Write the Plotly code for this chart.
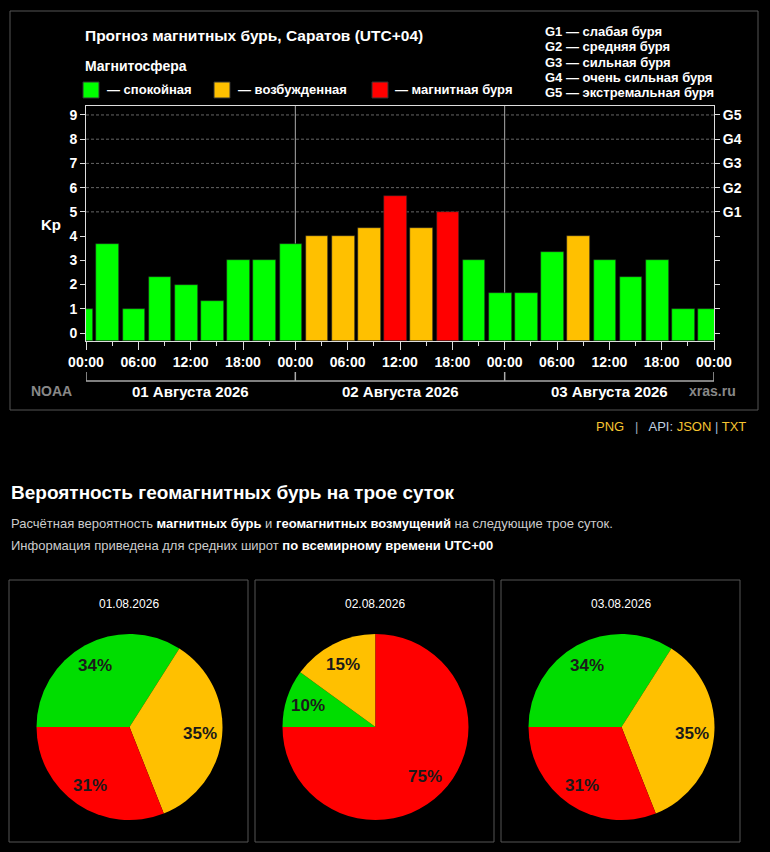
import math
import pandas as pd
import plotly.graph_objects as go

W, H = 770, 852

# Kp forecast, 3-hour intervals (local time UTC+04)
kp = [1, 3.67, 1, 2.33, 2, 1.33, 3, 3, 3.67, 4, 4, 4.33, 5.67, 4.33, 5, 3,
      1.67, 1.67, 3.33, 4, 3, 2.33, 3, 1, 1]
first_center = "2026-07-31 23:30"
day_labels = ["01 Августа 2026", "02 Августа 2026", "03 Августа 2026"]
g_levels = [5, 6, 7, 8, 9]
g_names = ["G1", "G2", "G3", "G4", "G5"]
g_desc = ["слабая буря", "средняя буря", "сильная буря", "очень сильная буря", "экстремальная буря"]
legend_names = ["спокойная", "возбужденная", "магнитная буря"]

pie_dates = ["01.08.2026", "02.08.2026", "03.08.2026"]
p_quiet = [34, 10, 34]
p_active = [35, 15, 35]
p_storm = [31, 75, 31]

GREEN, ORANGE, RED = "#00ff00", "#ffc000", "#ff0000"
PIE_GREEN = "#00dd00"
FONT = "Liberation Sans, Arial, sans-serif"


def px(x):
    return x / W


def py(y):
    return 1 - y / H


times = pd.date_range(first_center, periods=len(kp), freq="3h")
colors = [GREEN if v < 4 else (ORANGE if v < 5 else RED) for v in kp]
y_floor = -0.33
start = pd.Timestamp("2026-08-01")
end = start + pd.Timedelta(days=3)

fig = go.Figure()
fig.add_trace(go.Bar(
    x=times, y=[v - y_floor for v in kp], base=y_floor,
    width=2.6 * 3600 * 1000,
    marker=dict(color=colors, line=dict(color="#222", width=0.6)),
    hoverinfo="skip", showlegend=False,
))
# invisible trace for the right (G) axis
fig.add_trace(go.Scatter(x=[start], y=[0], yaxis="y2", mode="markers",
                         marker=dict(opacity=0), showlegend=False, hoverinfo="skip"))

fig.update_layout(
    width=W, height=H, autosize=False, margin=dict(l=0, r=0, t=0, b=0, pad=0),
    paper_bgcolor="#000", plot_bgcolor="#000",
    font=dict(family=FONT, color="#fff"),
    bargap=0, showlegend=False,
    xaxis=dict(
        domain=[px(86), px(714)], range=[start, end], type="date", automargin=False,
        tickformat="%H:%M", dtick=6 * 3600 * 1000, tick0=start,
        ticks="outside", ticklen=8, tickcolor="#ddd", tickwidth=1,
        minor=dict(dtick=3 * 3600 * 1000, ticks="outside", ticklen=4, tickcolor="#ddd"),
        showline=True, linecolor="#ddd", mirror=True, showgrid=False, zeroline=False,
        tickfont=dict(size=14, weight="bold", color="#fff"),
        fixedrange=True,
    ),
    yaxis=dict(
        domain=[py(341), py(106)], range=[y_floor, 9.37], automargin=False,
        tickvals=list(range(10)), ticks="outside", ticklen=5, tickcolor="#ddd",
        showline=True, linecolor="#ddd", showgrid=False, zeroline=False,
        tickfont=dict(size=14, weight="bold", color="#fff"),
        fixedrange=True,
    ),
    yaxis2=dict(
        overlaying="y", side="right", anchor="x", range=[y_floor, 9.37], automargin=False,
        tickvals=list(range(10)),
        ticktext=["" for _ in range(10 - len(g_names))] + g_names,
        ticks="outside", ticklen=5, tickcolor="#ddd",
        showline=True, linecolor="#ddd", showgrid=False, zeroline=False,
        tickfont=dict(size=14, weight="bold", color="#fff"),
        fixedrange=True,
    ),
)

shapes = []
for g in g_levels:
    shapes.append(dict(type="line", xref="x domain", yref="y", x0=0, x1=1, y0=g, y1=g,
                       line=dict(color="#666", width=1, dash="3px,2px"), layer="below"))
for d in range(1, 3):
    t = start + pd.Timedelta(days=d)
    shapes.append(dict(type="line", xref="x", yref="y domain", x0=t, x1=t, y0=0, y1=1,
                       line=dict(color="#aaa", width=1), layer="below"))
# day bracket under the axis
shapes.append(dict(type="line", xref="x", yref="paper", x0=start, x1=end,
                   y0=py(381), y1=py(381), line=dict(color="#aaa", width=1.5)))
for d in range(4):
    t = start + pd.Timedelta(days=d)
    shapes.append(dict(type="line", xref="x", yref="paper", x0=t, x1=t,
                       y0=py(381), y1=py(372), line=dict(color="#aaa", width=1.5)))
# outer frame of the chart image
shapes.append(dict(type="rect", xref="paper", yref="paper", x0=px(10), x1=px(758),
                   y0=py(410), y1=py(11), line=dict(color="#555", width=1)))
# legend squares
for xs, c in zip([83, 214, 372], [GREEN, ORANGE, RED]):
    shapes.append(dict(type="rect", xref="paper", yref="paper", x0=px(xs), x1=px(xs + 16),
                       y0=py(98), y1=py(82), fillcolor=c, line=dict(color="#333", width=1)))

ann = []


def text(x, y, s, size=14, color="#fff", xanchor="left", bold=True, xref="paper"):
    ann.append(dict(x=x if xref != "paper" else px(x), y=py(y), xref=xref, yref="paper",
                    text=s, showarrow=False, xanchor=xanchor, yanchor="middle",
                    font=dict(size=size, color=color, family=FONT,
                              weight="bold" if bold else "normal")))


text(83, 36, "Прогноз магнитных бурь, Саратов (UTC+04)", 15.5)
text(83, 66, "Магнитосфера", 14)
for xs, name in zip([105, 236, 393], legend_names):
    text(xs, 90, "— " + name, 13)
for i, (g, d) in enumerate(zip(g_names, g_desc)):
    text(543, 31 + i * 15.5, g + " — " + d, 13)
text(51, 224, "Kp", 15, xanchor="center")
for d, lab in enumerate(day_labels):
    t = start + pd.Timedelta(hours=12 + 24 * d)
    text(t, 391, lab, 15, xanchor="center", xref="x")
text(52, 391, "NOAA", 14, color="#888", xanchor="center")
text(712, 391, "xras.ru", 14, color="#888", xanchor="center")

gold = "#f7c531"
text(748, 427,
     f"<span style='color:{gold}'>PNG</span><span style='color:#9ab'>   |   </span>"
     f"<span style='color:#c0d0e0'>API: </span><span style='color:{gold}'>JSON</span>"
     f"<span style='color:#9bd'> | </span><span style='color:{gold}'>TXT</span>",
     13, xanchor="right", bold=False)

text(9, 492, "Вероятность геомагнитных бурь на трое суток", 19)
text(9, 523, "<span style='color:#ccc'>Расчётная вероятность </span><b>магнитных бурь</b>"
     "<span style='color:#ccc'> и </span><b>геомагнитных возмущений</b>"
     "<span style='color:#ccc'> на следующие трое суток.</span>", 13, bold=False)
text(9, 545, "<span style='color:#ccc'>Информация приведена для средних широт </span>"
     "<b>по всемирному времени UTC+00</b>", 13, bold=False)

box_left = [9, 255, 501]
r = 93
cy = 727
for i, dt in enumerate(pie_dates):
    x0 = box_left[i]
    cx = x0 + 120.5
    shapes.append(dict(type="rect", xref="paper", yref="paper", x0=px(x0), x1=px(x0 + 239),
                       y0=py(842), y1=py(580), line=dict(color="#555", width=1)))
    text(cx - 1, 604, dt, 12, xanchor="center", bold=False)
    vals = [p_quiet[i], p_active[i], p_storm[i]]
    fig.add_trace(go.Pie(
        values=vals, labels=legend_names, sort=False, direction="clockwise", rotation=270,
        marker=dict(colors=[PIE_GREEN, ORANGE, RED], line=dict(width=0)),
        textinfo="none",
        domain=dict(x=[px(cx - r), px(cx + r)], y=[py(cy + r), py(cy - r)]),
        showlegend=False, hoverinfo="skip",
    ))
    # percent labels along the middle of each slice
    total = sum(vals)
    ang = 270.0
    for v in vals:
        mid = math.radians(ang + 360 * v / total / 2)
        ang += 360 * v / total
        lx = cx + 0.76 * r * math.sin(mid)
        ly = cy - 0.76 * r * math.cos(mid)
        text(lx, ly, f"{round(100 * v / total)}%", 17, color="#1a1a1a", xanchor="center")

fig.update_layout(shapes=shapes, annotations=ann)
fig.write_html("out.html", config={"displayModeBar": False, "responsive": False},
               default_width="770px", default_height="852px",
               post_script="document.body.style.margin='0';")
